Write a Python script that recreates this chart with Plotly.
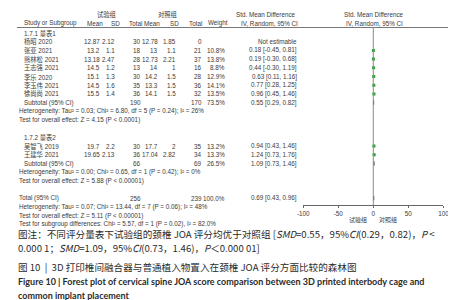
import plotly.graph_objects as go

# ---------------- data ----------------
group_labels = ["1.7.1 量表1", "1.7.2 量表2"]
col_group_headers = ["试验组", "对照组"]
col_headers = ["Study or Subgroup", "Mean", "SD", "Total", "Mean", "SD", "Total", "Weight"]
smd_header = ["Std. Mean Difference", "IV, Random, 95% CI"]

g1_study = ["杨昭 2020", "张亚 2021", "熊林松 2021", "王志强 2021", "李乐 2020", "李玉伟 2021", "徐尚尚 2021"]
g1_mean_e = [12.87, 13.2, 13.18, 14.5, 15.1, 14.5, 15.5]
g1_sd_e = [2.12, 1.1, 2.47, 1.2, 1.3, 1.6, 1.4]
g1_n_e = [30, 18, 28, 13, 30, 35, 36]
g1_mean_c = [12.78, 13, 12.73, 14, 14.2, 13.3, 14.1]
g1_sd_c = [1.85, 1.1, 2.21, 1, 1.5, 1.5, 1.5]
g1_n_c = [0, 21, 37, 16, 28, 36, 32]
g1_weight = [None, 10.8, 13.8, 8.8, 12.9, 14.1, 13.5]
g1_smd = [None, 0.18, 0.19, 0.44, 0.63, 0.77, 0.96]
g1_lo = [None, -0.45, -0.30, -0.30, 0.11, 0.28, 0.45]
g1_hi = [None, 0.81, 0.68, 1.19, 1.16, 1.25, 1.46]

g2_study = ["吴智飞 2019", "王建华 2021"]
g2_mean_e = [19.7, 19.65]
g2_sd_e = [2.2, 2.13]
g2_n_e = [30, 36]
g2_mean_c = [17.7, 17.04]
g2_sd_c = [2, 2.82]
g2_n_c = [35, 34]
g2_weight = [13.2, 13.3]
g2_smd = [0.94, 1.24]
g2_lo = [0.43, 0.73]
g2_hi = [1.46, 1.76]

sub_n_e = [190, 66]
sub_n_c = [170, 69]
sub_weight = [73.5, 26.5]
sub_smd = [0.55, 1.09]
sub_lo = [0.29, 0.73]
sub_hi = [0.82, 1.46]
sub_het = ["Heterogeneity: Tau² = 0.03; Chi² = 6.80, df = 5 (P = 0.24); I² = 26%",
           "Heterogeneity: Tau² = 0.00; Chi² = 0.65, df = 1 (P = 0.42); I² = 0%"]
sub_test = ["Test for overall effect: Z = 4.15 (P < 0.0001)",
            "Test for overall effect: Z = 5.88 (P < 0.00001)"]

tot_n_e = 256
tot_n_c = 239
tot_weight = 100.0
tot_smd = 0.69
tot_lo = 0.43
tot_hi = 0.96
tot_lines = ["Heterogeneity: Tau² = 0.07; Chi² = 13.44, df = 7 (P = 0.06); I² = 48%",
             "Test for overall effect: Z = 5.11 (P < 0.00001)",
             "Test for subgroup differences: Chi² = 5.57, df = 1 (P = 0.02), I² = 82.0%"]

x_ticks = [-100, -50, 0, 50, 100]
favours = ["试验组", "对照组"]

caption_lines = [
    "图注：不同评分量表下试验组的颈椎 JOA 评分均优于对照组 [<i>SMD</i>=0.55，95%<i>CI</i>(0.29，0.82)，<i>P</i> <",
    "0.000 1；<i>SMD</i>=1.09，95%<i>CI</i>(0.73，1.46)，<i>P</i>＜0.000 01]",
]
title_cn = "图 10  |  3D 打印椎间融合器与普通植入物置入在颈椎 JOA 评分方面比较的森林图"
title_en = ["Figure 10 | Forest plot of cervical spine JOA score comparison between 3D printed interbody cage and",
            "common implant placement"]

# ---------------- layout helpers ----------------
W, H = 456, 300
ROW0, STEP = 25.0, 8.7
FONT = "Arial, Liberation Sans, Noto Sans CJK SC"
TXT = "#3a3a3a"
FS = 6.3


def ry(i):
    return ROW0 + STEP * i


def num(v):
    return "" if v is None else f"{v:g}"


def ci(s, l, h):
    return f"{s:.2f} [{l:.2f}, {h:.2f}]"


annotations = []


def txt(x, y, s, anchor="left", size=FS, color=TXT, font=FONT):
    annotations.append(dict(x=x / W, y=y, xref="paper", yref="y", text=s, showarrow=False,
                            xanchor=anchor, yanchor="middle",
                            font=dict(size=size, color=color, family=font)))


COLS = dict(mean_e=90, sd_e=106, n_e=132, mean_c=150, sd_c=168, n_c=195, w=219, ci=293)
XL = 8
XN = 3

# headers
txt(95, 6, col_group_headers[0], "center")
txt(158, 6, col_group_headers[1], "center")
txt(259, 6, smd_header[0], "center")
txt(370, 6, smd_header[0], "center")
txt(XL, 15, col_headers[0])
for xh, h in zip([93, 111, 133, 152, 171, 195, 222], col_headers[1:]):
    txt(xh, 15, h, "right")
txt(262, 15, smd_header[1], "center")
txt(370, 15, smd_header[1], "center")


def study_row(i, name, me, se, ne, mc, sc, nc, w, s, l, h):
    y = ry(i)
    txt(XL, y, name)
    txt(COLS["mean_e"], y, num(me), "right")
    txt(COLS["sd_e"], y, num(se), "right")
    txt(COLS["n_e"], y, num(ne), "right")
    txt(COLS["mean_c"], y, num(mc), "right")
    txt(COLS["sd_c"], y, num(sc), "right")
    txt(COLS["n_c"], y, num(nc), "right")
    if w is not None:
        txt(COLS["w"], y, f"{w:.1f}%", "right")
        txt(COLS["ci"], y, ci(s, l, h), "right")
    else:
        txt(COLS["ci"], y, "Not estimable", "right")


groups = [
    (0, g1_study, g1_mean_e, g1_sd_e, g1_n_e, g1_mean_c, g1_sd_c, g1_n_c, g1_weight, g1_smd, g1_lo, g1_hi),
    (12, g2_study, g2_mean_e, g2_sd_e, g2_n_e, g2_mean_c, g2_sd_c, g2_n_c, g2_weight, g2_smd, g2_lo, g2_hi),
]

pt_x, pt_y, pt_ep, pt_em = [], [], [], []
dia_x, dia_y = [], []

for gi, (start, st, me, se, ne, mc, sc, nc, w, s, l, h) in enumerate(groups):
    txt(XL, ry(start), group_labels[gi])
    for k in range(len(st)):
        idx = start + 1 + k
        study_row(idx, st[k], me[k], se[k], ne[k], mc[k], sc[k], nc[k], w[k], s[k], l[k], h[k])
        if s[k] is not None:
            pt_x.append(s[k]); pt_y.append(ry(idx))
            pt_ep.append(h[k] - s[k]); pt_em.append(s[k] - l[k])
    si = start + 1 + len(st)
    ys = ry(si)
    txt(XL, ys, "Subtotal (95% CI)")
    txt(COLS["n_e"], ys, num(sub_n_e[gi]), "right")
    txt(COLS["n_c"], ys, num(sub_n_c[gi]), "right")
    txt(COLS["w"], ys, f"{sub_weight[gi]:.1f}%", "right")
    txt(COLS["ci"], ys, ci(sub_smd[gi], sub_lo[gi], sub_hi[gi]), "right")
    dia_x += [sub_lo[gi], sub_smd[gi], sub_hi[gi], sub_smd[gi], sub_lo[gi], None]
    dia_y += [ys, ys - 2, ys, ys + 2, ys, None]
    txt(XN, ry(si + 1), sub_het[gi])
    txt(XN, ry(si + 2), sub_test[gi])

yt = ry(19)
txt(XN, yt, "Total (95% CI)")
txt(COLS["n_e"], yt, num(tot_n_e), "right")
txt(COLS["n_c"], yt, num(tot_n_c), "right")
txt(COLS["w"], yt, f"{tot_weight:.1f}%", "right")
txt(COLS["ci"], yt, ci(tot_smd, tot_lo, tot_hi), "right")
dia_x += [tot_lo, tot_smd, tot_hi, tot_smd, tot_lo, None]
dia_y += [yt, yt - 2, yt, yt + 2, yt, None]
for k, line in enumerate(tot_lines):
    txt(XN, ry(20 + k), line)

AXIS_Y = 197
txt(365, 212, favours[0], "right", size=6)
txt(373, 212, favours[1], "left", size=6)

# caption
CAP = "Noto Sans CJK SC"
txt(2, 226, caption_lines[0], size=9.6, color="#2b2b2b", font=CAP)
txt(2, 240, caption_lines[1], size=9.6, color="#2b2b2b", font=CAP)
txt(2, 259, title_cn, size=9.6, color="#2b2b2b", font=CAP)
txt(2, 273, "<b>" + title_en[0] + "</b>", size=9, color="#2b2b2b", font="Lato")
txt(2, 287, "<b>" + title_en[1] + "</b>", size=9, color="#2b2b2b", font="Lato")

fig = go.Figure()
fig.add_trace(go.Scatter(x=pt_x, y=pt_y, mode="markers",
                         marker=dict(symbol="square", size=3, color="#2f9e3a"),
                         error_x=dict(type="data", symmetric=False, array=pt_ep, arrayminus=pt_em,
                                      thickness=0.8, width=0, color="#333"),
                         hoverinfo="skip"))
fig.add_trace(go.Scatter(x=dia_x, y=dia_y, mode="lines", fill="toself", fillcolor="#111",
                         line=dict(color="#111", width=0.5), hoverinfo="skip"))

# header rule and zero line
fig.add_shape(type="line", xref="paper", yref="y", x0=XN / W, x1=447 / W, y0=19.5, y1=19.5,
              line=dict(color="#555", width=0.8))
fig.add_shape(type="line", xref="x", yref="y", x0=0, x1=0, y0=19.5, y1=AXIS_Y,
              line=dict(color="#8a8a8a", width=1))

fig.update_layout(
    width=W, height=H, margin=dict(l=0, r=0, t=0, b=0),
    paper_bgcolor="white", plot_bgcolor="white", showlegend=False,
    annotations=annotations,
    xaxis=dict(domain=[297 / W, 441 / W], range=[-100, 100], anchor="free",
               position=(H - AXIS_Y) / H, showline=True, linecolor="#666", linewidth=0.8,
               ticks="outside", ticklen=2.5, tickcolor="#666", tickvals=x_ticks,
               ticktext=[str(t) for t in x_ticks], tickfont=dict(size=6.3, color=TXT, family=FONT),
               showgrid=False, zeroline=False, fixedrange=True),
    yaxis=dict(domain=[0, 1], range=[H, 0], visible=False, fixedrange=True),
)

fig.write_html("out.html")
